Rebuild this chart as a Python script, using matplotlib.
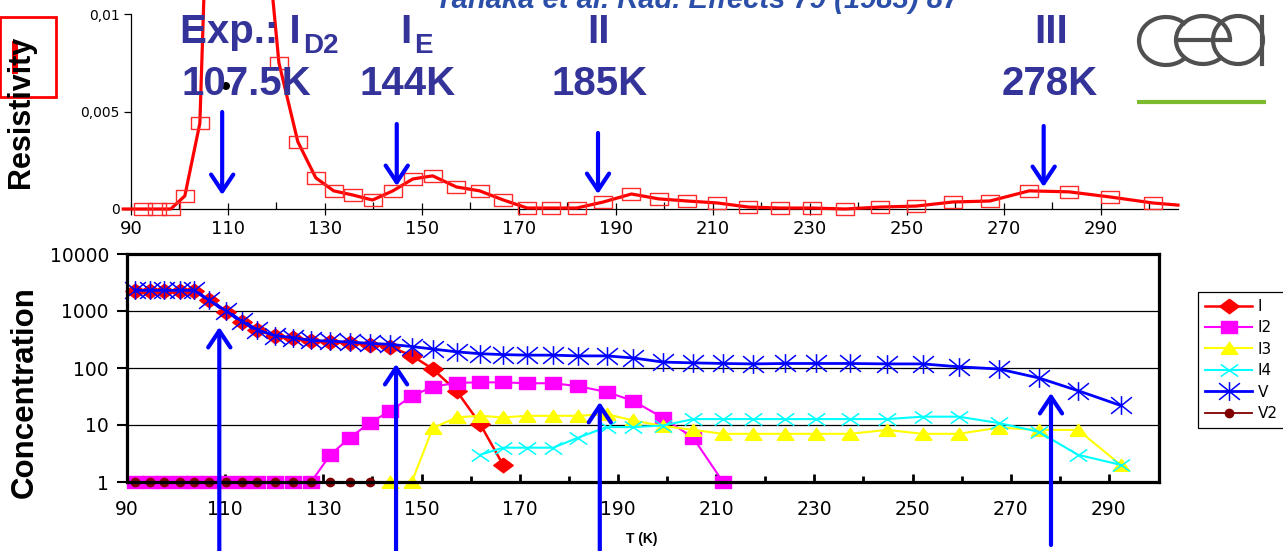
import matplotlib
matplotlib.use('Agg')
import matplotlib.pyplot as plt
from matplotlib.patches import Rectangle, Arc, Circle
from matplotlib.path import Path
from matplotlib.ticker import NullLocator

# ---- resistivity (top panel) ----
res_T = [92.5, 95.4, 98.2, 101.1, 104.2, 120.5, 124.4, 128.1, 131.8, 135.7,
         139.8, 144.0, 148.1, 152.2, 157.1, 161.9, 166.8, 171.7, 176.7, 181.9,
         187.4, 193.2, 198.8, 204.7, 210.9, 217.3, 223.9, 230.5, 237.3, 244.5,
         251.9, 259.5, 267.1, 275.2, 283.4, 291.8, 300.7]
res_rho = [0, 0, 0, 0.00067, 0.0044, 0.0075, 0.00345, 0.0016, 0.00093, 0.00072,
           0.00046, 0.00093, 0.00154, 0.0017, 0.00113, 0.00093, 0.00046, 0.00005, 0.00005, 0.00005,
           0.00036, 0.00077, 0.00052, 0.00041, 0.00031, 0.0001, 0.00005, 0.00005, 0.0, 0.0001,
           0.00015, 0.00036, 0.00041, 0.00093, 0.00088, 0.00062, 0.00031]
# fitted curve: same points plus the off-scale ID2 peak and the ends
fit_T = [88.4] + res_T[:5] + [107.5, 112.0, 116.5] + res_T[5:] + [305.9]
fit_rho = [0.0] + res_rho[:5] + [0.030, 0.035, 0.018] + res_rho[5:] + [0.0002]

# ---- concentrations (bottom panel) ----
T_low = [91.6, 94.7, 97.6, 100.7, 103.7, 106.7, 110.2, 113.4, 116.5, 120.1, 123.8, 127.5]
T_high = [131.4, 135.4, 139.5, 143.6, 148.0, 152.3, 157.2, 161.9, 166.6, 171.5,
          176.8, 181.9, 187.7, 193.1, 199.2, 205.3, 211.4, 217.5, 224.0, 230.4,
          237.3, 244.8, 252.1, 259.4, 267.6, 275.7, 283.7, 292.4]
T_all = T_low + T_high

T_I = T_all[:21]
c_I = [2250, 2250, 2250, 2250, 2250, 1550, 980, 650, 460, 365, 330, 300,
       285, 272, 255, 235, 165, 96, 39, 10.5, 2.0]

T_I2 = T_all[:29]
c_I2 = [1] * 12 + [3.0, 6.0, 11, 17.5, 32, 47, 55, 56, 56, 54, 54, 48, 38, 26.5, 13.3, 6.0, 1.0]

T_I3 = T_all[15:]
c_I3 = [1, 1, 8.9, 13.6, 14.5, 13.6, 14.5, 14.5, 14.5, 15.5, 12, 9.6, 8.2, 7, 7,
        7, 7, 7, 8.2, 7, 7, 9, 8.2, 8.2, 2.0]

T_I4 = T_all[19:]
c_I4 = [3.0, 4.0, 4.0, 4.0, 6.0, 9.2, 9.2, 9.8, 12.7, 12.7, 12.7, 12.7, 12.7,
        12.7, 12.7, 14, 14, 10.8, 7.6, 3.0, 2.0]

T_V = T_all
c_V = [2300, 2300, 2300, 2300, 2300, 1550, 1000, 660, 470, 370, 340, 305,
       295, 285, 270, 260, 238, 215, 192, 178, 172, 168, 168, 163, 163, 150, 127,
       123, 120, 118, 120, 120, 120, 118, 118, 105, 96, 67, 40, 22]

T_V2 = T_all[:15]
c_V2 = [1] * 15

series = ['I', 'I2', 'I3', 'I4', 'V', 'V2']
arrow_T = [108.8, 144.8, 186.3, 278.2]

W, H = 1283, 551
fig = plt.figure(figsize=(W / 100, H / 100), dpi=100)
plt.rcParams['font.family'] = 'DejaVu Sans'

# custom (slightly flattened, like the stretched slide picture) markers
m_diam = Path([(0, 0.75), (1, 0), (0, -0.75), (-1, 0), (0, 0.75)])
m_sq = Path([(-1, -0.78), (1, -0.78), (1, 0.78), (-1, 0.78), (-1, -0.78)])
m_tri = Path([(-1, -0.7), (1, -0.7), (0, 0.75), (-1, -0.7)])
m_x = Path([(-1, -0.7), (1, 0.7), (-1, 0.7), (1, -0.7)],
           [Path.MOVETO, Path.LINETO, Path.MOVETO, Path.LINETO])
m_star = Path([(-1, -0.8), (1, 0.8), (-1, 0.8), (1, -0.8), (0, -0.9), (0, 0.9)],
              [Path.MOVETO, Path.LINETO, Path.MOVETO, Path.LINETO, Path.MOVETO, Path.LINETO])
m_rsq = Path([(-1, -0.72), (1, -0.72), (1, 0.72), (-1, 0.72), (-1, -0.72)])

# ---------- top panel ----------
ax1 = fig.add_axes([123 / W, 1 - 209 / H, (1178 - 123) / W, (209 - 14) / H])
ax1.set_xlim(88.35, 305.9)
ax1.set_ylim(0, 0.01)
ax1.plot(fit_T, fit_rho, color='red', lw=2.3, clip_on=False, zorder=3)
ax1.plot(res_T, res_rho, ls='none', marker=m_rsq, ms=12.5, mfc='none',
         mec='#ff2a2a', mew=1.0, clip_on=False, zorder=4)
for s in ['top', 'right']:
    ax1.spines[s].set_visible(False)
ax1.spines['left'].set_position(('data', 90))
ax1.spines['left'].set_linewidth(0.9)
ax1.spines['bottom'].set_linewidth(0.9)
ax1.set_xticks(range(90, 300, 20))
ax1.set_xticks(range(100, 310, 20), minor=True)
ax1.set_yticks([0, 0.005, 0.01])
ax1.set_yticklabels(['0', '0,005', '0,01'])
ax1.tick_params(axis='x', which='major', direction='inout', length=8, width=0.9,
                labelsize=13, pad=4)
ax1.tick_params(axis='x', which='minor', direction='in', length=5, width=0.9)
ax1.tick_params(axis='y', direction='out', length=5, width=0.9, labelsize=10, pad=3)
ax1.patch.set_alpha(0)

# ---------- bottom panel ----------
ax2 = fig.add_axes([127 / W, 1 - 482 / H, (1159 - 127) / W, (482 - 254) / H])
ax2.set_yscale('log')
ax2.set_xlim(90, 300.2)
ax2.set_ylim(1, 10000)
ax2.grid(axis='y', which='major', color='black', lw=0.9)
ax2.set_axisbelow(True)

h = []
h += ax2.plot(T_I, c_I, color='red', lw=1.8, marker=m_diam, ms=14, mec='red', mfc='red', clip_on=False)
h += ax2.plot(T_I2, c_I2, color='#ff00ff', lw=1.5, marker=m_sq, ms=11.5, mec='#ff00ff', mfc='#ff00ff', clip_on=False)
h += ax2.plot(T_I3, c_I3, color='#ffff00', lw=1.5, marker=m_tri, ms=12, mec='#ffff00', mfc='#ffff00', clip_on=False)
h += ax2.plot(T_I4, c_I4, color='#00ffff', lw=1.5, marker=m_x, ms=12.5, mec='#00ffff', mfc='none', mew=1.1, clip_on=False)
h += ax2.plot(T_V, c_V, color='#0000ff', lw=2.0, marker=m_star, ms=15, mec='#0000ff', mfc='none', mew=1.1, clip_on=False)
h += ax2.plot(T_V2, c_V2, color='#800000', lw=1.3, marker='o', ms=6, mec='#800000', mfc='#800000', clip_on=False)

for s in ax2.spines.values():
    s.set_linewidth(2.3)
ax2.set_xticks(range(90, 300, 20))
ax2.set_xticks(range(100, 300, 20), minor=True)
ax2.set_yticks([1, 10, 100, 1000, 10000])
ax2.set_yticklabels(['1', '10', '100', '1000', '10000'])
ax2.yaxis.set_minor_locator(NullLocator())
ax2.tick_params(axis='x', which='major', direction='in', length=6, width=2, labelsize=13.5, pad=13)
ax2.tick_params(axis='x', which='minor', direction='in', length=4, width=2)
ax2.tick_params(axis='y', direction='out', length=7, width=1.5, labelsize=13.5, pad=6)

leg = fig.legend(h, series, loc='upper left', bbox_to_anchor=(1198 / W, 1 - 292 / H),
                 bbox_transform=fig.transFigure, borderaxespad=0, frameon=True,
                 fancybox=False, edgecolor='black', framealpha=1, fontsize=11,
                 handlelength=3.1, handletextpad=0.35, labelspacing=0.42,
                 borderpad=0.45, numpoints=1)
leg.get_frame().set_linewidth(0.9)

# ---------- overlay in image pixels ----------
ov = fig.add_axes([0, 0, 1, 1])
ov.set_xlim(0, W)
ov.set_ylim(H, 0)
ov.axis('off')

blue_txt = '#333399'
big = dict(color=blue_txt, fontsize=29, fontweight='bold', family='Liberation Sans', va='baseline')
sub = dict(color=blue_txt, fontsize=20, fontweight='bold', family='Liberation Sans', va='baseline')
ov.text(180, 43, 'Exp.: I', ha='left', **big)
ov.text(303, 53, 'D2', ha='left', **sub)
ov.text(181, 95, '107.5K', ha='left', **big)
ov.text(400, 43, 'I', ha='left', **big)
ov.text(414, 53, 'E', ha='left', **sub)
ov.text(360, 95, '144K', ha='left', **big)
ov.text(599, 43, 'II', ha='center', **big)
ov.text(600, 95, '185K', ha='center', **big)
ov.text(1051, 43, 'III', ha='center', **big)
ov.text(1050, 95, '278K', ha='center', **big)
ov.text(435, 8, 'Tanaka et al. Rad. Effects 79 (1983) 87', ha='left', va='baseline',
        color='#2b4fa8', fontsize=21, fontweight='bold', fontstyle='italic',
        family='Liberation Sans')

ov.text(21, 112, 'Resistivity', rotation=90, ha='center', va='center',
        fontsize=22, fontweight='bold', family='Liberation Sans')
ov.text(25, 392, 'Concentration', rotation=90, ha='center', va='center',
        fontsize=22.5, fontweight='bold', family='Liberation Sans')
ov.text(642, 539, 'T (K)', ha='center', va='center', fontsize=10, fontweight='bold',
        family='Liberation Sans')

# arrows marking the recovery stages
ap = dict(arrowstyle='->,head_length=1.2,head_width=0.8', color='#0000ff', lw=3,
          shrinkA=0, shrinkB=0)
top_y = [(112, 195), (124, 186), (133, 194), (126, 187)]
bot_y = [(551, 327), (551, 364), (551, 402), (540, 393)]
for t, (y0, y1), (y2, y3) in zip(arrow_T, top_y, bot_y):
    xa = ax1.transData.transform((t, 0))[0]
    xb = ax2.transData.transform((t, 1))[0]
    ov.annotate('', xy=(xa, y1), xytext=(xa, y0), arrowprops=ap)
    ov.annotate('', xy=(xb, y3), xytext=(xb, y2 + 5), arrowprops=ap)

# red box and marks from the slide
ov.add_patch(Rectangle((0, 17), 56, 80, fill=False, ec='red', lw=2))
ov.add_patch(Rectangle((12, 41), 6, 33, fc='red', ec='none'))
ov.add_patch(Circle((226, 86), 4, fc='black', ec='none'))

# cea logo
g = '#505050'
ov.add_patch(Arc((1166, 41), 54, 48, theta1=40, theta2=320, ec=g, lw=3))
ov.add_patch(Arc((1203, 40), 54, 48, theta1=40, theta2=360, ec=g, lw=3))
ov.plot([1177, 1230], [40, 40], color=g, lw=3)
ov.add_patch(Arc((1238, 40), 50, 48, theta1=0, theta2=360, ec=g, lw=3))
ov.plot([1262, 1262], [17, 64], color=g, lw=3)
ov.plot([1137, 1266], [102, 102], color='#7cba2f', lw=3, solid_capstyle='butt')

fig.savefig('out.png', dpi=100)
